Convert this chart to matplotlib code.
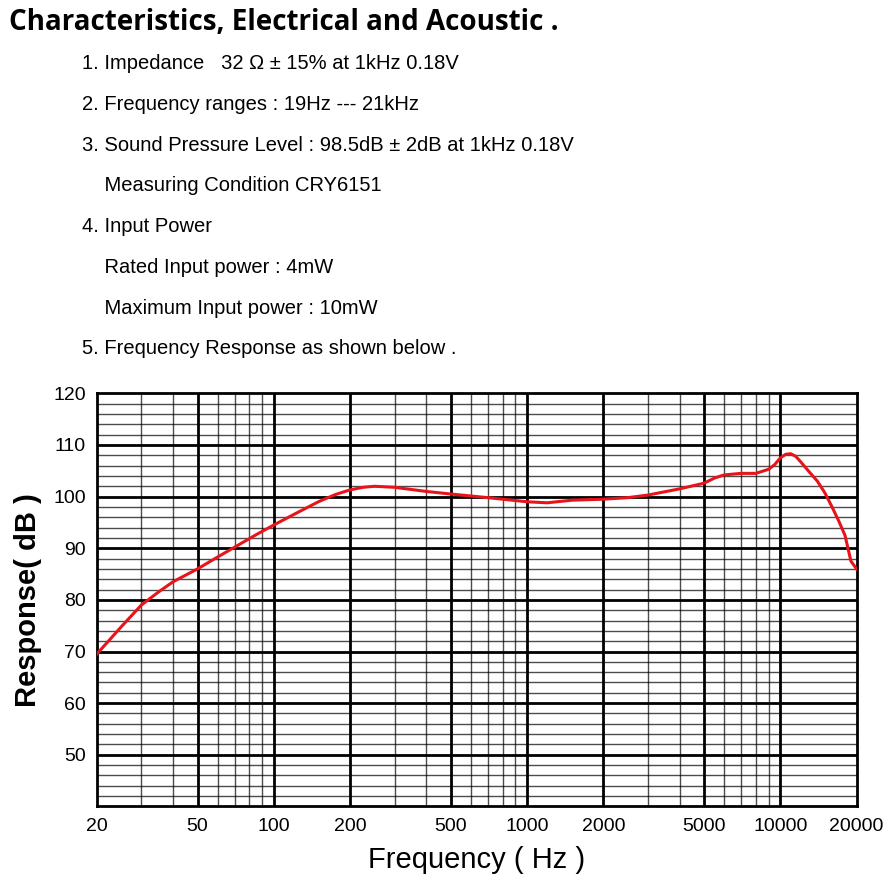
import numpy as np
import matplotlib
matplotlib.use("Agg")
import matplotlib.pyplot as plt

freq = [20, 25, 30, 35, 40, 50, 60, 70, 85, 100, 125, 150, 175, 200, 225, 250, 300,
        400, 500, 700, 1000, 1200, 1500, 2000, 2500, 3000, 4000, 5000, 5500, 6000,
        7000, 8000, 9000, 9500, 10000, 10500, 11000, 11500, 12000, 13000, 14000,
        15000, 16000, 17000, 18000, 19000, 20000]
resp = [69.5, 74.8, 79, 81.5, 83.5, 86, 88.3, 90.2, 92.6, 94.5, 97, 99, 100.4, 101.3,
        101.8, 102, 101.8, 101, 100.5, 99.8, 99, 98.8, 99.3, 99.5, 99.8, 100.3, 101.5,
        102.6, 103.6, 104.2, 104.5, 104.5, 105.3, 106.2, 107.5, 108.2, 108.3, 107.8,
        106.8, 104.8, 103, 100.7, 98, 95.3, 92.5, 87.5, 86]
xticks = [20, 50, 100, 200, 500, 1000, 2000, 5000, 10000, 20000]
yticks = [50, 60, 70, 80, 90, 100, 110, 120]
spec_lines = [
    "1. Impedance   32 \u03a9 \u00b1 15% at 1kHz 0.18V",
    "2. Frequency ranges : 19Hz --- 21kHz",
    "3. Sound Pressure Level : 98.5dB \u00b1 2dB at 1kHz 0.18V",
    "    Measuring Condition CRY6151",
    "4. Input Power",
    "    Rated Input power : 4mW",
    "    Maximum Input power : 10mW",
    "5. Frequency Response as shown below .",
]

plt.rcParams['font.family'] = ['Liberation Sans', 'DejaVu Sans']
fig = plt.figure(figsize=(8.96, 8.96), dpi=100)
fig.text(0.01, 0.975, "Characteristics, Electrical and Acoustic .", fontsize=20,
         fontweight='bold', family=['Open Sans', 'DejaVu Sans'], va='center')
for i, s in enumerate(spec_lines):
    fig.text(0.092, 0.929 - i * 0.0455, s, fontsize=14.5, va='center')

ax = fig.add_axes([0.108, 0.1, 0.848, 0.461])
ax.set_xscale('log')
ax.set_xlim(20, 20000)
ax.set_ylim(40, 120)

# graph paper grid
for dec in [10, 100, 1000, 10000]:
    for m in range(2, 10):
        f = dec * m
        if 20 < f < 20000:
            thick = m in (1, 2, 5)
            ax.axvline(f, color='k', lw=2.0 if thick else 1.0, alpha=1 if thick else 0.7)
    if 20 < dec < 20000:
        ax.axvline(dec, color='k', lw=2.0)
for y in range(42, 120, 2):
    thick = y % 10 == 0
    ax.axhline(y, color='k', lw=2.0 if thick else 1.0, alpha=1 if thick else 0.7)
for sp in ax.spines.values():
    sp.set_linewidth(2)

ax.plot(freq, resp, color='#e8141c', lw=2.2, zorder=5, solid_joinstyle='round')

ax.set_xticks(xticks)
ax.set_xticklabels([str(x) for x in xticks], fontsize=14)
ax.xaxis.set_minor_locator(matplotlib.ticker.NullLocator())
ax.set_yticks(yticks)
ax.set_yticklabels([str(y) for y in yticks], fontsize=14)
ax.tick_params(length=0, pad=8)
ax.set_xlabel("Frequency ( Hz )", fontsize=21, labelpad=8)
ax.set_ylabel("Response( dB )", fontsize=21, fontweight='bold', labelpad=8)

fig.savefig("out.png", dpi=100)
